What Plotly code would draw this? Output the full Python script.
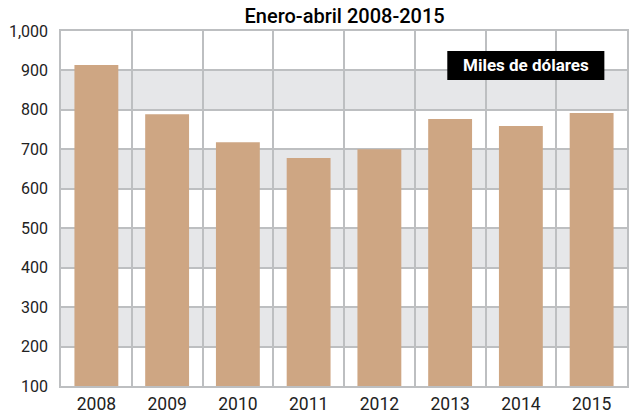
import plotly.graph_objects as go

years = ["2008", "2009", "2010", "2011", "2012", "2013", "2014", "2015"]
values = [914, 789, 718, 678, 700, 777, 759, 792]
y_ticks = [100, 200, 300, 400, 500, 600, 700, 800, 900, 1000]
y_tick_text = ["100", "200", "300", "400", "500", "600", "700", "800", "900", "1,000"]

FONT = "Roboto"
GRID = "#bdbfc1"

fig = go.Figure()
fig.add_trace(go.Bar(x=years, y=values, marker=dict(color="#cea683", line=dict(width=0)),
                     width=0.62, hoverinfo="skip"))

shapes = []
for lo in range(200, 1000, 200):
    shapes.append(dict(type="rect", xref="paper", yref="y", x0=0, x1=1, y0=lo, y1=lo + 100,
                       fillcolor="#e6e7e9", line=dict(width=0), layer="below"))
# unit label box
shapes.append(dict(type="rect", xref="paper", yref="paper", x0=0.6825, x1=0.96,
                   y0=0.862, y1=0.944, fillcolor="black", line=dict(width=0), layer="above"))

fig.update_layout(
    width=630, height=416,
    margin=dict(l=61, r=3, t=31, b=30),
    paper_bgcolor="white", plot_bgcolor="white",
    showlegend=False,
    bargap=0.38,
    shapes=shapes,
    title=dict(text="Enero-abril 2008-2015", x=0.547, xanchor="center", y=0.962, yanchor="middle",
               font=dict(family="Roboto", size=20, color="black", weight=500)),
    xaxis=dict(type="category", tickson="boundaries", showgrid=True, gridcolor=GRID, gridwidth=1.5,
               showline=True, linecolor=GRID, linewidth=1.5, mirror=True, ticks="", automargin=False,
               tickfont=dict(family=FONT, size=17.5, color="#222"), ticklabelstandoff=1),
    yaxis=dict(range=[100, 1000], tickvals=y_ticks, ticktext=y_tick_text, showgrid=True,
               gridcolor=GRID, gridwidth=1.5, showline=True, linecolor=GRID, linewidth=1.5,
               mirror=True, ticks="", zeroline=False, ticklabelstandoff=8, automargin=False,
               tickfont=dict(family=FONT, size=16, color="#222")),
    annotations=[dict(text="<b>Miles de dólares</b>", xref="paper", yref="paper", x=0.821, y=0.903,
                      xanchor="center", yanchor="middle", showarrow=False,
                      font=dict(family="Roboto", size=17, color="white"))],
)

fig.write_html("out.html", config={"displayModeBar": False},
               post_script="document.body.style.margin='0';document.body.style.overflow='hidden';")
